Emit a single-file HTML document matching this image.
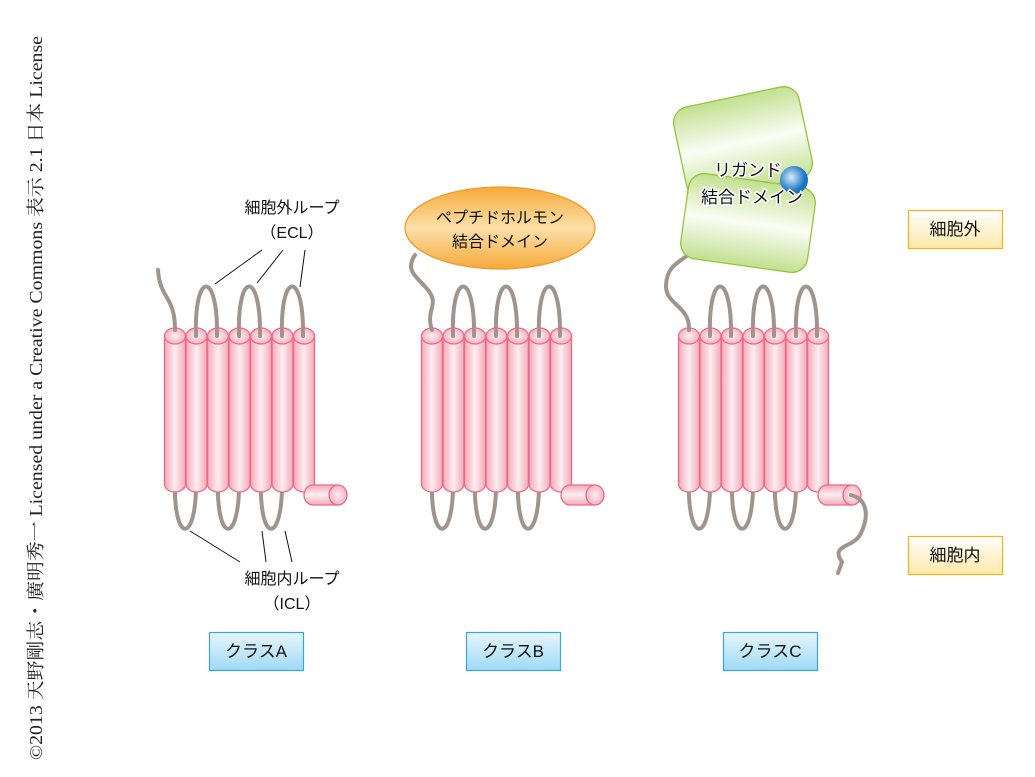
<!DOCTYPE html>
<html><head><meta charset="utf-8"><style>
body{margin:0;background:#fff}
svg{display:block}
text{font-family:"Liberation Sans","Noto Sans CJK JP",sans-serif}
</style></head><body>
<svg width="1035" height="777" viewBox="0 0 1035 777" xmlns="http://www.w3.org/2000/svg">
<defs>
<linearGradient id="cyl" x1="0" x2="1" y1="0" y2="0">
<stop offset="0" stop-color="#f4a9b8"/><stop offset="0.5" stop-color="#fdeef2"/><stop offset="1" stop-color="#f4a9b8"/></linearGradient>
<linearGradient id="cylh" x1="0" x2="0" y1="0" y2="1">
<stop offset="0" stop-color="#f4a9b8"/><stop offset="0.5" stop-color="#fdeef2"/><stop offset="1" stop-color="#f4a9b8"/></linearGradient>
<radialGradient id="cap"><stop offset="0" stop-color="#fdeef2"/><stop offset="1" stop-color="#f5b3c2"/></radialGradient>
<linearGradient id="blue" x1="0" x2="0" y1="0" y2="1"><stop offset="0" stop-color="#e6f6fd"/><stop offset="1" stop-color="#9fdaf5"/></linearGradient>
<linearGradient id="yel" x1="0" x2="0" y1="0" y2="1"><stop offset="0" stop-color="#fff"/><stop offset="1" stop-color="#fde9a6"/></linearGradient>
<linearGradient id="org" x1="0" x2="0" y1="0" y2="1"><stop offset="0" stop-color="#f6a93a"/><stop offset="0.5" stop-color="#fde0a8"/><stop offset="1" stop-color="#f6a93a"/></linearGradient>
<linearGradient id="grn" x1="0" x2="0" y1="0" y2="1"><stop offset="0" stop-color="#c2e090"/><stop offset="0.5" stop-color="#fbfdf5"/><stop offset="1" stop-color="#c2e090"/></linearGradient>
<radialGradient id="ball" cx="0.4" cy="0.4"><stop offset="0" stop-color="#d8ecfb"/><stop offset="1" stop-color="#1a73c6"/></radialGradient>
<g id="rec">
 <g fill="none" stroke="#a0958d" stroke-width="4" stroke-linecap="round">
  <path d="M196,336 C194,270 218,270 217,336"/>
  <path d="M239,336 C237,270 261,270 260,336"/>
  <path d="M282,336 C280,270 304,270 303,336"/>
  <path d="M175,480 C173,545 197,545 196,480"/>
  <path d="M218,480 C216,545 240,545 239,480"/>
  <path d="M261,480 C259,545 283,545 282,480"/>
 </g>
 <g stroke="#ec6a85" stroke-width="1.3">
  <g id="c1"><path d="M164.5,336 V484 A10.5,8 0 0 0 185.5,484 V336 Z" fill="url(#cyl)"/><ellipse cx="175" cy="336" rx="10.5" ry="8" fill="url(#cap)"/></g>
  <use href="#c1" x="21.5"/><use href="#c1" x="43"/><use href="#c1" x="64.5"/><use href="#c1" x="86"/><use href="#c1" x="107.5"/><use href="#c1" x="129"/>
  <path d="M338,485 H313 A9,10 0 0 0 313,505 H338" fill="url(#cylh)"/>
  <ellipse cx="338" cy="495" rx="9" ry="10" fill="url(#cap)"/>
 </g>
 <g fill="none" stroke="#a0958d" stroke-width="4" stroke-linecap="round">
  <path d="M196,336 L196,330 M217,336 V330 M239,336 V330 M260,336 V330 M282,336 V330 M303,336 V330"/>
 </g>
</g>
</defs>

<text transform="translate(42,760) rotate(-90)" textLength="724" lengthAdjust="spacingAndGlyphs" style="font-family:'Liberation Serif','Noto Serif CJK SC',serif" font-size="18" fill="#222">©2013 天野剛志・廣明秀一 Licensed under a Creative Commons 表示 2.1 日本 License</text>

<!-- Class A -->
<use href="#rec"/>
<path d="M158,270 C160,300 175,295 175,330" fill="none" stroke="#a0958d" stroke-width="4" stroke-linecap="round"/>
<!-- Class B -->
<use href="#rec" x="257"/>
<ellipse cx="500" cy="228" rx="95" ry="41" fill="url(#org)" stroke="#f09a2a" stroke-width="1.3"/>
<path d="M432,330 C425,310 440,305 428,290 C415,275 405,270 415,255" fill="none" stroke="#a0958d" stroke-width="4" stroke-linecap="round"/>
<text x="500" y="223" font-size="16" text-anchor="middle" fill="#111">ペプチドホルモン</text>
<text x="500" y="247" font-size="16" text-anchor="middle" fill="#111">結合ドメイン</text>
<!-- Class C -->
<use href="#rec" x="514"/>
<path d="M689,330 C690,305 665,305 666,285 C667,265 680,262 692,252" fill="none" stroke="#a0958d" stroke-width="4" stroke-linecap="round"/>
<path d="M851,495 C870,500 868,520 860,535 C852,548 830,545 842,562 L838,573" fill="none" stroke="#a0958d" stroke-width="4" stroke-linecap="round"/>
<g stroke="#94c53c" stroke-width="1.3" fill="url(#grn)">
 <rect x="679" y="96" width="128" height="94" rx="16" transform="rotate(-12 743 143)"/>
 <rect x="684" y="180" width="128" height="86" rx="16" transform="rotate(8 748 223)"/>
</g>
<circle cx="794" cy="180" r="14" fill="url(#ball)"/>
<g font-size="17" text-anchor="middle" fill="#111" stroke="#fff" stroke-width="3" paint-order="stroke">
<text x="748" y="176">リガンド</text>
<text x="752" y="203">結合ドメイン</text>
</g>

<!-- leaders -->
<g stroke="#111" stroke-width="1">
<path d="M262,250 L215,284 M283,250 L257,283 M305,250 L300,287"/>
<path d="M190,531 L240,562 M262,531 L266,562 M285,531 L292,562"/>
</g>
<g font-size="16" text-anchor="middle" fill="#111">
<text x="292" y="213">細胞外ループ</text>
<text x="292" y="238">（ECL）</text>
<text x="292" y="584">細胞内ループ</text>
<text x="292" y="609">（ICL）</text>
</g>

<!-- label boxes -->
<g stroke="#3aa6dc" stroke-width="1.2" fill="url(#blue)">
<rect x="209.5" y="632.5" width="94" height="38"/>
<rect x="466.5" y="632.5" width="94" height="38"/>
<rect x="723.5" y="632.5" width="94" height="38"/>
</g>
<g stroke="#f5b21e" stroke-width="1.2" fill="url(#yel)">
<rect x="908.5" y="210.5" width="94" height="38"/>
<rect x="908.5" y="536.5" width="94" height="38"/>
</g>
<g font-size="17" text-anchor="middle" fill="#111">
<text x="256" y="657">クラスA</text>
<text x="513" y="657">クラスB</text>
<text x="770" y="657">クラスC</text>
<text x="955" y="235">細胞外</text>
<text x="955" y="561">細胞内</text>
</g>
</svg>
</body></html>
